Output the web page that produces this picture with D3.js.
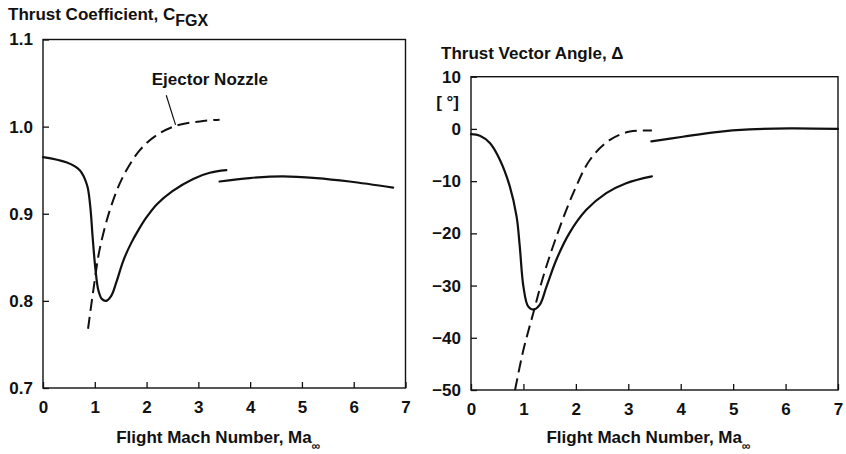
<!DOCTYPE html>
<html>
<head>
<meta charset="utf-8">
<script src="https://cdn.jsdelivr.net/npm/d3@7"></script>
<style>
  html, body { margin: 0; padding: 0; background: #fff; }
  svg { display: block; font-family: "Liberation Sans", Arial, Helvetica, sans-serif; font-weight: bold; }
</style>
</head>
<body>
<svg id="chart" width="846" height="454"></svg>
<script>
// ---- Thrust coefficient panel ----
const coefMainMach = [0, 0.45, 0.71, 0.85, 0.91, 0.96, 1.01, 1.07, 1.14, 1.22, 1.32, 1.42, 1.55, 1.70, 1.85, 2.0, 2.2, 2.5, 2.9, 3.22, 3.54];
const coefMainVal  = [0.965, 0.959, 0.950, 0.933, 0.910, 0.872, 0.838, 0.812, 0.802, 0.800, 0.806, 0.822, 0.846, 0.866, 0.882, 0.896, 0.911, 0.926, 0.940, 0.947, 0.950];
const coefHighMach = [3.41, 3.99, 4.63, 5.28, 5.92, 6.76];
const coefHighVal  = [0.937, 0.941, 0.943, 0.941, 0.937, 0.930];
const coefEjectMach = [0.87, 1.0, 1.09, 1.29, 1.54, 1.87, 2.19, 2.57, 3.03, 3.41];
const coefEjectVal  = [0.768, 0.824, 0.858, 0.904, 0.942, 0.973, 0.990, 1.001, 1.006, 1.008];
const coefTicks = [0.7, 0.8, 0.9, 1.0, 1.1];

// ---- Thrust vector angle panel ----
const angleMainMach = [0, 0.17, 0.36, 0.55, 0.74, 0.87, 0.93, 1.0, 1.09, 1.19, 1.31, 1.44, 1.63, 1.88, 2.20, 2.58, 2.96, 3.45];
const angleMainVal  = [-1.0, -1.3, -2.7, -5.9, -11.0, -16.8, -22.5, -30.2, -34.0, -34.6, -33.7, -30.2, -25.0, -19.9, -15.5, -12.3, -10.4, -9.1];
const angleHighMach = [3.44, 4.04, 4.68, 5.31, 6.08, 7.0];
const angleHighVal  = [-2.4, -1.5, -0.6, -0.1, 0.1, 0.0];
const angleEjectMach = [0.84, 1.0, 1.19, 1.38, 1.63, 1.95, 2.27, 2.65, 3.03, 3.45];
const angleEjectVal  = [-50, -42.3, -35.2, -28.2, -20.6, -12.3, -5.9, -2.1, -0.5, -0.3];
const angleTicks = [-50, -40, -30, -20, -10, 0, 10];

const machTicks = [0, 1, 2, 3, 4, 5, 6, 7];

const svg = d3.select("#chart");
const zip = (xs, ys) => xs.map((x, i) => [x, ys[i]]);
const FONT = "17px";

function drawPanel(p) {
  const x = d3.scaleLinear().domain([0, 7]).range([p.left, p.right]);
  const y = d3.scaleLinear().domain(p.yDomain).range([p.bottom, p.top]);
  const g = svg.append("g");

  // frame
  g.append("rect")
    .attr("x", p.left).attr("y", p.top)
    .attr("width", p.right - p.left).attr("height", p.bottom - p.top)
    .attr("fill", "none").attr("stroke", "#111").attr("stroke-width", 1.4);

  // inward ticks on bottom and left
  const xAxis = d3.axisBottom(x).tickValues(machTicks).tickSize(-6).tickPadding(13).tickFormat(d3.format("d"));
  const gx = g.append("g").attr("transform", `translate(0,${p.bottom})`).call(xAxis);
  const yAxis = d3.axisLeft(y).tickValues(p.yTicks).tickSize(-6).tickPadding(10).tickFormat(p.yFormat);
  const gy = g.append("g").attr("transform", `translate(${p.left},0)`).call(yAxis);
  [gx, gy].forEach(a => {
    a.select(".domain").remove();
    a.selectAll(".tick line").attr("stroke", "#111").attr("stroke-width", 1.3);
    a.selectAll(".tick text").attr("fill", "#111").style("font-size", FONT)
      .style("font-family", '"Liberation Sans", Arial, sans-serif').style("font-weight", "bold");
  });

  const line = d3.line().x(d => x(d[0])).y(d => y(d[1])).curve(d3.curveCatmullRom.alpha(0.5));
  p.solids.forEach(s => g.append("path").attr("d", line(s)).attr("fill", "none")
    .attr("stroke", "#111").attr("stroke-width", 2.2).attr("stroke-linecap", "round"));
  g.append("path").attr("d", line(p.dashed)).attr("fill", "none")
    .attr("stroke", "#111").attr("stroke-width", 2).attr("stroke-dasharray", "12,6");

  // axis title
  const xt = g.append("text").attr("x", (p.left + p.right) / 2 - 6).attr("y", 443)
    .attr("text-anchor", "middle").style("font-size", FONT).attr("fill", "#111");
  xt.append("tspan").text("Flight Mach Number, Ma");
  xt.append("tspan").attr("dy", 7).style("font-size", "12px").text("\u221E");

  return { x, y, g };
}

// left panel
const left = drawPanel({
  left: 43, right: 405.5, top: 39.5, bottom: 388,
  yDomain: [0.7, 1.1], yTicks: coefTicks, yFormat: d3.format(".1f"),
  solids: [zip(coefMainMach, coefMainVal), zip(coefHighMach, coefHighVal)],
  dashed: zip(coefEjectMach, coefEjectVal)
});
const lt = svg.append("text").attr("x", 8).attr("y", 20).style("font-size", FONT).attr("fill", "#111");
lt.append("tspan").text("Thrust Coefficient, C");
lt.append("tspan").attr("dy", 6).style("font-size", "16px").text("FGX");

// ejector nozzle annotation
svg.append("text").attr("x", left.x(2.1)).attr("y", left.y(1.048))
  .style("font-size", FONT).attr("fill", "#111").text("Ejector Nozzle");
svg.append("line")
  .attr("x1", left.x(2.38)).attr("y1", left.y(1.036))
  .attr("x2", left.x(2.56)).attr("y2", left.y(1.002))
  .attr("stroke", "#111").attr("stroke-width", 1.2);

// right panel
const right = drawPanel({
  left: 471, right: 838, top: 76.7, bottom: 390,
  yDomain: [-50, 10], yTicks: angleTicks, yFormat: d3.format("d"),
  solids: [zip(angleMainMach, angleMainVal), zip(angleHighMach, angleHighVal)],
  dashed: zip(angleEjectMach, angleEjectVal)
});
svg.append("text").attr("x", 441).attr("y", 59).style("font-size", FONT).attr("fill", "#111")
  .text("Thrust Vector Angle, \u0394");
svg.append("text").attr("x", 459).attr("y", 108).attr("text-anchor", "end")
  .style("font-size", FONT).attr("fill", "#111").text("[ \u00B0]");
</script>
</body>
</html>
